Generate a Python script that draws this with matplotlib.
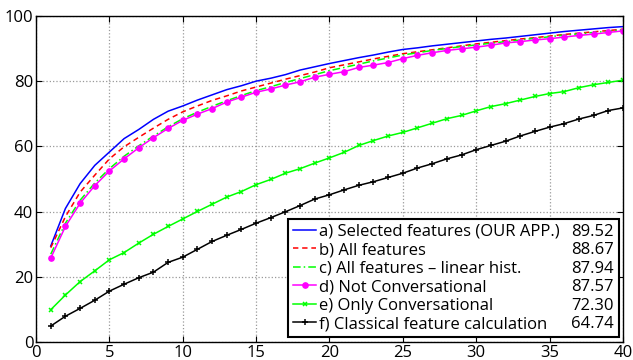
import matplotlib
matplotlib.use("Agg")
import matplotlib.pyplot as plt
from matplotlib.lines import Line2D
import numpy as np

x = np.arange(1, 41)

sel_feat = [29.5, 41.0, 48.6, 54.2, 58.3, 62.4, 65.2, 68.3, 70.8, 72.4,
            74.2, 75.8, 77.4, 78.6, 80.0, 80.9, 82.0, 83.4, 84.4, 85.4,
            86.3, 87.2, 88.0, 88.9, 89.7, 90.2, 90.8, 91.3, 91.8, 92.3,
            92.8, 93.2, 93.7, 94.2, 94.7, 95.2, 95.6, 96.0, 96.4, 96.7]
all_feat = [29.0, 38.5, 46.0, 51.2, 56.2, 59.9, 62.8, 65.6, 68.3, 70.6,
            72.4, 74.1, 75.5, 77.0, 78.2, 79.4, 80.6, 81.7, 82.8, 84.1,
            85.0, 85.9, 86.8, 87.6, 88.4, 89.0, 89.6, 90.2, 90.8, 91.4,
            91.9, 92.4, 92.9, 93.3, 93.8, 94.3, 94.7, 95.1, 95.5, 95.9]
all_lin = [27.0, 36.5, 43.5, 48.8, 53.2, 57.0, 60.2, 63.2, 66.0, 68.5,
           70.5, 72.3, 74.0, 75.6, 77.1, 78.3, 79.6, 80.8, 82.0, 83.2,
           84.2, 85.2, 86.2, 87.1, 88.0, 88.7, 89.4, 90.0, 90.6, 91.1,
           91.6, 92.1, 92.6, 93.1, 93.6, 94.1, 94.5, 94.9, 95.3, 95.7]
not_conv = [25.8, 35.5, 42.6, 48.0, 52.5, 56.2, 59.6, 62.7, 65.5, 68.0,
            69.9, 71.6, 73.6, 75.1, 76.6, 77.6, 78.8, 79.8, 81.2, 82.1,
            82.9, 84.2, 84.9, 85.7, 86.9, 87.9, 88.7, 89.4, 89.9, 90.4,
            91.0, 91.7, 92.1, 92.6, 93.0, 93.5, 94.0, 94.4, 94.9, 95.4]
only_conv = [10.0, 14.5, 18.6, 21.9, 25.3, 27.5, 30.4, 33.1, 35.5, 37.8,
             40.1, 42.3, 44.5, 46.2, 48.3, 49.9, 51.8, 53.2, 54.9, 56.5,
             58.2, 60.3, 61.8, 63.2, 64.3, 65.7, 67.1, 68.5, 69.5, 70.9,
             72.2, 73.1, 74.2, 75.3, 76.2, 76.8, 78.0, 78.9, 79.6, 80.3]
classical = [5.0, 8.0, 10.4, 12.9, 15.7, 17.8, 19.8, 21.5, 24.5, 26.1,
             28.5, 30.9, 32.8, 34.6, 36.5, 38.2, 40.0, 41.9, 43.9, 45.2,
             46.7, 48.1, 49.2, 50.5, 51.8, 53.4, 54.7, 56.2, 57.4, 59.0,
             60.3, 61.6, 63.2, 64.6, 65.9, 67.0, 68.4, 69.5, 71.0, 71.8]

labels = ["a) Selected features (OUR APP.)", "b) All features",
          "c) All features \u2013 linear hist.", "d) Not Conversational",
          "e) Only Conversational", "f) Classical feature calculation"]
scores = ["89.52", "88.67", "87.94", "87.57", "72.30", "64.74"]

plt.rcParams['font.family'] = ['Open Sans', 'DejaVu Sans']

fig = plt.figure(figsize=(6.33, 3.6), dpi=100)
ax = fig.add_axes([0.057, 0.049, 0.927, 0.907])

lw = 1.1
h = []
h += ax.plot(x, sel_feat, color='#0000ff', lw=lw)
h += ax.plot(x, all_feat, color='#ff0000', lw=lw, ls=(0, (3.5, 2.5)))
h += ax.plot(x, all_lin, color='#00ff00', lw=lw, ls=(0, (5, 2, 1, 2)))
h += ax.plot(x, not_conv, color='#ff00ff', lw=lw, marker='o', ms=3.8)
h += ax.plot(x, only_conv, color='#00ff00', lw=lw, marker='x', ms=3.2, mew=1.1)
h += ax.plot(x, classical, color='black', lw=lw, marker='+', ms=4.2, mew=1.1)

ax.set_xlim(0, 40)
ax.set_ylim(0, 100)
ax.set_xticks(range(0, 41, 5))
ax.set_yticks(range(0, 101, 20))
ax.grid(True, ls=':', color='#999999', lw=0.9)
ax.tick_params(direction='in', top=True, right=True, labelsize=12, length=4, pad=2)
for s in ax.spines.values():
    s.set_linewidth(1.0)

# second legend column holds the scores, with blank handles
blank = [Line2D([], [], color='none') for _ in scores]
leg = ax.legend(h + blank, labels + scores, ncol=2, loc='lower right',
                bbox_to_anchor=(0.993, 0.016), fontsize=12,
                handlelength=1.4, handletextpad=0.15, borderpad=0.3,
                labelspacing=0.15, columnspacing=-0.85, fancybox=False,
                edgecolor='black', framealpha=1.0, borderaxespad=0.0)
leg.get_frame().set_linewidth(1.5)

fig.savefig("out.png", dpi=100)
